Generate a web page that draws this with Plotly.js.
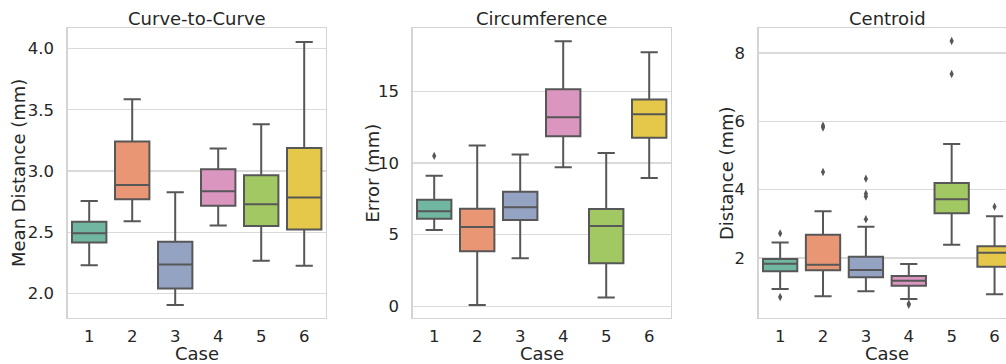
<!DOCTYPE html>
<html>
<head>
<meta charset="utf-8">
<script src="https://cdn.plot.ly/plotly-3.0.1.min.js"></script>
<style>html,body{margin:0;padding:0;background:#fff;}#chart{width:1006px;height:364px;}</style>
</head>
<body>
<div id="chart"></div>
<script>
const cases = ['1', '2', '3', '4', '5', '6'];
const colors = ['#71b6a1', '#e99675', '#95a3c3', '#db96c0', '#a2c864', '#e5c849'];

// Curve-to-Curve (Mean Distance, mm)
const c2cQ1  = [2.416, 2.770, 2.041, 2.716, 2.552, 2.522];
const c2cMed = [2.493, 2.887, 2.237, 2.835, 2.729, 2.784];
const c2cQ3  = [2.585, 3.241, 2.422, 3.015, 2.966, 3.189];
const c2cLo  = [2.231, 2.590, 1.907, 2.555, 2.267, 2.226];
const c2cHi  = [2.756, 3.586, 2.827, 3.184, 3.382, 4.054];
const c2cOutX = [];
const c2cOutY = [];

// Circumference (Error, mm)
const circQ1  = [6.11, 3.85, 6.02, 11.87, 3.01, 11.76];
const circMed = [6.63, 5.53, 6.91, 13.20, 5.60, 13.41];
const circQ3  = [7.44, 6.81, 8.00, 15.16, 6.79, 14.44];
const circLo  = [5.32, 0.09, 3.36, 9.70, 0.61, 8.96];
const circHi  = [9.12, 11.22, 10.59, 18.50, 10.71, 17.73];
const circOutX = ['1'];
const circOutY = [10.50];

// Centroid (Distance, mm)
const centQ1  = [1.610, 1.639, 1.434, 1.190, 3.307, 1.746];
const centMed = [1.834, 1.805, 1.649, 1.337, 3.717, 2.156];
const centQ3  = [1.970, 2.683, 2.039, 1.473, 4.195, 2.341];
const centLo  = [1.093, 0.878, 1.024, 0.800, 2.390, 0.937];
const centHi  = [2.450, 3.366, 2.917, 1.824, 5.337, 3.220];
const centOutX = ['1', '1', '2', '2', '2', '3', '3', '3', '3', '4', '4', '5', '5', '6'];
const centOutY = [2.72, 0.859, 5.873, 5.815, 4.517, 4.322, 3.88, 3.80, 3.132, 0.66, 0.63, 8.351, 7.385, 3.502];

const titles = ['Curve-to-Curve', 'Circumference', 'Centroid'];
const yTitles = ['Mean Distance (mm)', 'Error (mm)', 'Distance (mm)'];
const xTitle = 'Case';

const panels = [
  {q1: c2cQ1, med: c2cMed, q3: c2cQ3, lo: c2cLo, hi: c2cHi, ox: c2cOutX, oy: c2cOutY},
  {q1: circQ1, med: circMed, q3: circQ3, lo: circLo, hi: circHi, ox: circOutX, oy: circOutY},
  {q1: centQ1, med: centMed, q3: centQ3, lo: centLo, hi: centHi, ox: centOutX, oy: centOutY}
];

const LINE = '#575757';
const TXT = '#262626';
const FONT = 'DejaVu Sans';
const TICK = 16.5;
const LAB = 18;
const traces = [];
panels.forEach((p, k) => {
  const xa = k === 0 ? 'x' : 'x' + (k + 1);
  const ya = k === 0 ? 'y' : 'y' + (k + 1);
  cases.forEach((c, i) => {
    traces.push({
      type: 'box', x: [c], q1: [p.q1[i]], median: [p.med[i]], q3: [p.q3[i]],
      lowerfence: [p.lo[i]], upperfence: [p.hi[i]],
      boxpoints: false, width: 0.8, whiskerwidth: 0.5,
      fillcolor: colors[i], line: {color: LINE, width: 2},
      xaxis: xa, yaxis: ya, showlegend: false, hoverinfo: 'skip'
    });
  });
  if (p.ox.length) {
    traces.push({
      type: 'scatter', mode: 'markers', x: p.ox, y: p.oy,
      marker: {symbol: 'diamond-tall', size: 6, color: LINE},
      xaxis: xa, yaxis: ya, showlegend: false, hoverinfo: 'skip'
    });
  }
});

const W = 1006, H = 364;
const yDom = [1 - 318 / H, 1 - 28 / H];
const xDoms = [[67.7 / W, 325.7 / W], [412.7 / W, 670.7 / W], [758.7 / W, 1]];
const xRanges = [[-0.5, 5.5], [-0.5, 5.5], [-0.5, 5.267]];
const yRanges = [[1.80, 4.168], [-0.816, 19.43], [0.244, 8.73]];
const yTicks = [[2.0, 2.5, 3.0, 3.5, 4.0], [0, 5, 10, 15], [2, 4, 6, 8]];
const yFmt = ['.1f', 'd', 'd'];

const layout = {
  width: W, height: H,
  margin: {l: 0, r: 0, t: 0, b: 0},
  paper_bgcolor: '#fff', plot_bgcolor: '#fff',
  font: {family: FONT, color: TXT, size: TICK},
  annotations: []
};
for (let k = 0; k < 3; k++) {
  const sx = k === 0 ? '' : String(k + 1);
  layout['xaxis' + sx] = {
    domain: xDoms[k], type: 'category', range: xRanges[k], anchor: 'y' + sx,
    showgrid: false, zeroline: false, showline: true, linecolor: '#d4d4d4', linewidth: 1.3,
    mirror: true, ticks: '', ticklabelstandoff: 3,
    tickfont: {family: FONT, size: TICK, color: TXT}, fixedrange: true
  };
  layout['yaxis' + sx] = {
    domain: yDom, range: yRanges[k], anchor: 'x' + sx,
    tickvals: yTicks[k], tickformat: yFmt[k],
    showgrid: true, gridcolor: '#dadada', gridwidth: 1.2, zeroline: false,
    showline: true, linecolor: '#d4d4d4', linewidth: 1.3, mirror: k < 2,
    ticks: '', ticklabelstandoff: 9,
    tickfont: {family: FONT, size: TICK, color: TXT}, fixedrange: true
  };
  const cx = k < 2 ? (xDoms[k][0] + xDoms[k][1]) / 2 : 887.3 / W;
  layout.annotations.push({
    text: titles[k], xref: 'paper', yref: 'paper', x: cx, y: 1 - 18 / H,
    xanchor: 'center', yanchor: 'middle', showarrow: false,
    font: {family: FONT, size: LAB, color: TXT}
  });
  layout.annotations.push({
    text: xTitle, xref: 'paper', yref: 'paper', x: cx, y: 1 - 353.5 / H,
    xanchor: 'center', yanchor: 'middle', showarrow: false,
    font: {family: FONT, size: LAB, color: TXT}
  });
  const yx = [18, 371.5, 726][k];
  layout.annotations.push({
    text: yTitles[k], xref: 'paper', yref: 'paper', x: yx / W, y: 1 - 173 / H,
    xanchor: 'center', yanchor: 'middle', textangle: -90, showarrow: false,
    font: {family: FONT, size: LAB, color: TXT}
  });
}

Plotly.newPlot('chart', traces, layout, {staticPlot: true, displayModeBar: false});
</script>
</body>
</html>
